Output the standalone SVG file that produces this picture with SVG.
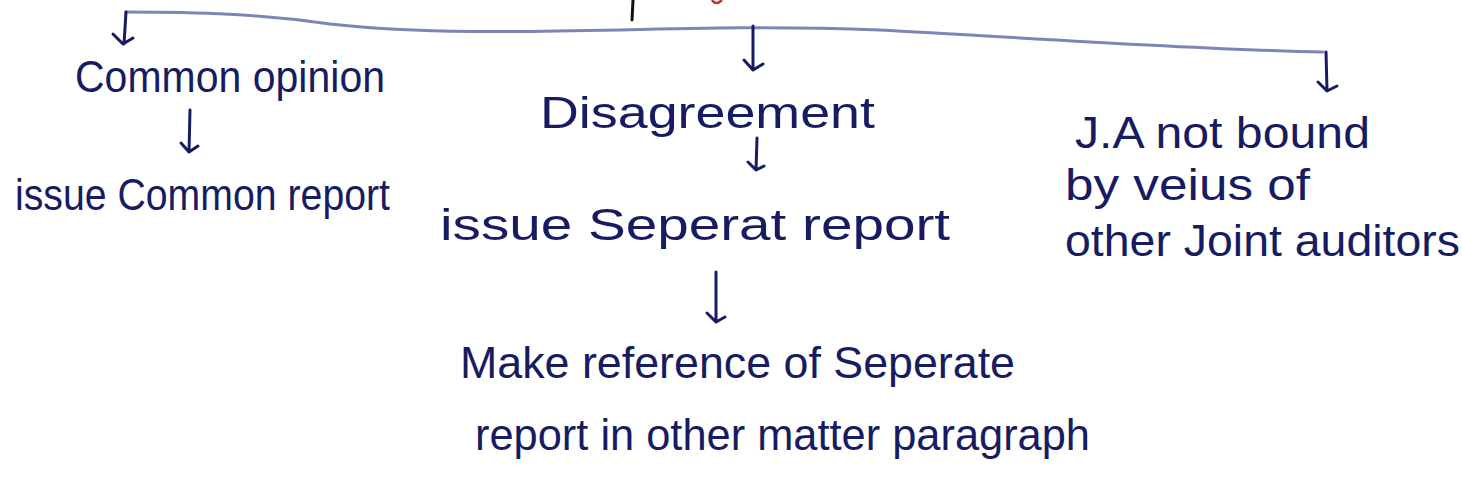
<svg xmlns="http://www.w3.org/2000/svg" width="1462" height="496" viewBox="0 0 1462 496">
<style>
.t{font-family:"Liberation Sans","DejaVu Sans",sans-serif;font-size:44px;fill:#171c62}
.ink{fill:none;stroke:#171c62;stroke-width:3;stroke-linecap:round;stroke-linejoin:round}
.bar{fill:none;stroke:#7b86b6;stroke-width:3;stroke-linecap:round}
</style>
<rect width="1462" height="496" fill="#ffffff"/>
<g id="connectors">
<path class="ink" d="M633 0 L632 20" style="stroke:#111"/>
<path d="M712 0 Q716 6 722 0" fill="none" stroke="#c0392b" stroke-width="2.5"/>
<path class="bar" d="M126 12 C200 12 260 14 330 24 C420 34 520 32 620 30 C700 28 780 26 880 30 C1000 36 1200 50 1323 52"/>
<path class="ink" d="M126 12 L124 44 M113 34 L123 44 L133 38"/>
<path class="ink" d="M753 26 L753 70 M744 60 L753 70 L763 64"/>
<path class="ink" d="M1326 52 L1327 90 M1318 82 L1327 91 L1337 86"/>
<path class="ink" d="M190 110 L189 152 M181 143 L189 152 L198 146"/>
<path class="ink" d="M757 138 L756 170 M748 162 L756 170 L764 166"/>
<path class="ink" d="M716 272 L716 322 M707 313 L716 322 L725 317"/>
</g>
<g id="n1"><text class="t" x="75" y="92" textLength="310" lengthAdjust="spacingAndGlyphs">Common opinion</text></g>
<g id="n2"><text class="t" x="15" y="210" textLength="375" lengthAdjust="spacingAndGlyphs">issue Common report</text></g>
<g id="n3"><text class="t" x="540" y="128" textLength="335" lengthAdjust="spacingAndGlyphs">Disagreement</text></g>
<g id="n4"><text class="t" x="440" y="240" textLength="510" lengthAdjust="spacingAndGlyphs">issue Seperat report</text></g>
<g id="n5">
<text class="t" x="1075" y="148" textLength="295" lengthAdjust="spacingAndGlyphs">J.A not bound</text>
<text class="t" x="1065" y="200" textLength="245" lengthAdjust="spacingAndGlyphs">by veius of</text>
<text class="t" x="1065" y="256" textLength="395" lengthAdjust="spacingAndGlyphs">other Joint auditors</text>
</g>
<g id="n6">
<text class="t" x="460" y="378" textLength="555" lengthAdjust="spacingAndGlyphs">Make reference of Seperate</text>
<text class="t" x="475" y="450" textLength="615" lengthAdjust="spacingAndGlyphs">report in other matter paragraph</text>
</g>
</svg>
